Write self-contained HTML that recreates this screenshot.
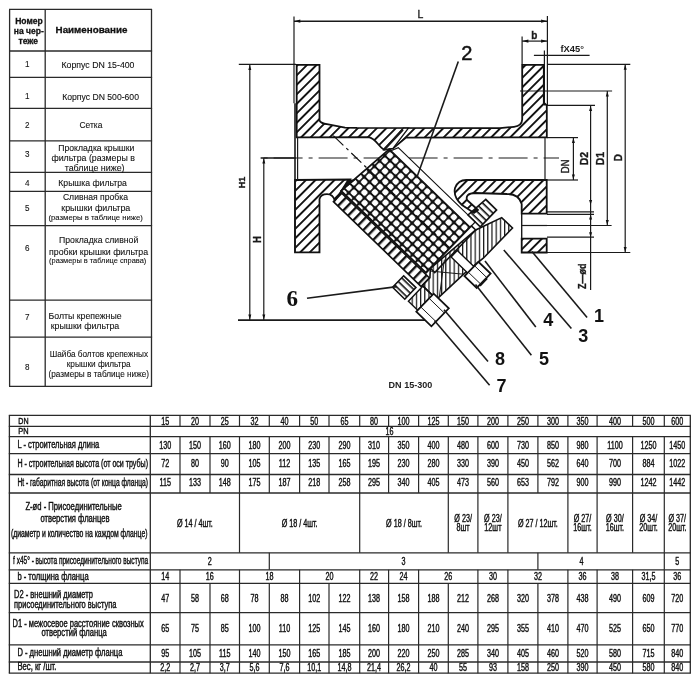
<!DOCTYPE html><html><head><meta charset="utf-8"><style>html,body{margin:0;padding:0;background:#fff;width:700px;height:683px;overflow:hidden}svg{display:block;will-change:transform}text{font-family:"Liberation Sans",sans-serif}</style></head><body>
<svg width="700" height="683" viewBox="0 0 700 683">
<rect width="700" height="683" fill="#fff"/>
<line x1="9.0" y1="9.4" x2="152.1" y2="9.4" stroke="#2a2a2a" stroke-width="1.3" />
<line x1="9.0" y1="51.0" x2="152.1" y2="51.0" stroke="#2a2a2a" stroke-width="1.3" />
<line x1="9.0" y1="77.3" x2="152.1" y2="77.3" stroke="#2a2a2a" stroke-width="1.3" />
<line x1="9.0" y1="108.4" x2="152.1" y2="108.4" stroke="#2a2a2a" stroke-width="1.3" />
<line x1="9.0" y1="140.9" x2="152.1" y2="140.9" stroke="#2a2a2a" stroke-width="1.3" />
<line x1="9.0" y1="172.4" x2="152.1" y2="172.4" stroke="#2a2a2a" stroke-width="1.3" />
<line x1="9.0" y1="191.3" x2="152.1" y2="191.3" stroke="#2a2a2a" stroke-width="1.3" />
<line x1="9.0" y1="225.7" x2="152.1" y2="225.7" stroke="#2a2a2a" stroke-width="1.3" />
<line x1="9.0" y1="300.1" x2="152.1" y2="300.1" stroke="#2a2a2a" stroke-width="1.3" />
<line x1="9.0" y1="337.1" x2="152.1" y2="337.1" stroke="#2a2a2a" stroke-width="1.3" />
<line x1="9.0" y1="386.3" x2="152.1" y2="386.3" stroke="#2a2a2a" stroke-width="1.3" />
<line x1="9.6" y1="9.4" x2="9.6" y2="386.3" stroke="#2a2a2a" stroke-width="1.3" />
<line x1="45.2" y1="9.4" x2="45.2" y2="386.3" stroke="#2a2a2a" stroke-width="1.3" />
<line x1="151.5" y1="9.4" x2="151.5" y2="386.3" stroke="#2a2a2a" stroke-width="1.3" />
<text x="15.2" y="24.3" font-size="9" font-weight="bold" textLength="27.6" lengthAdjust="spacingAndGlyphs" fill="#111" stroke="#111" stroke-width="0.3">Номер</text>
<text x="13.8" y="34.2" font-size="9" font-weight="bold" textLength="30.1" lengthAdjust="spacingAndGlyphs" fill="#111" stroke="#111" stroke-width="0.3">на чер-</text>
<text x="18.5" y="44.2" font-size="9" font-weight="bold" textLength="19.5" lengthAdjust="spacingAndGlyphs" fill="#111" stroke="#111" stroke-width="0.3">теже</text>
<text x="55.6" y="33.3" font-size="9.5" font-weight="bold" textLength="71.8" lengthAdjust="spacingAndGlyphs" fill="#111" stroke="#111" stroke-width="0.3">Наименование</text>
<text transform="translate(27.2,67.0) scale(0.9,1)" text-anchor="middle" font-size="9" font-weight="normal" fill="#111" stroke="#111" stroke-width="0.1">1</text>
<text x="61.5" y="67.8" font-size="9.5" font-weight="normal" textLength="73.0" lengthAdjust="spacingAndGlyphs" fill="#111" stroke="#111" stroke-width="0.1">Корпус DN 15-400</text>
<text transform="translate(27.2,98.8) scale(0.9,1)" text-anchor="middle" font-size="9" font-weight="normal" fill="#111" stroke="#111" stroke-width="0.1">1</text>
<text x="62.2" y="99.7" font-size="9.5" font-weight="normal" textLength="76.8" lengthAdjust="spacingAndGlyphs" fill="#111" stroke="#111" stroke-width="0.1">Корпус DN 500-600</text>
<text transform="translate(27.2,128.1) scale(0.9,1)" text-anchor="middle" font-size="9" font-weight="normal" fill="#111" stroke="#111" stroke-width="0.1">2</text>
<text x="79.5" y="128.3" font-size="9.5" font-weight="normal" textLength="22.9" lengthAdjust="spacingAndGlyphs" fill="#111" stroke="#111" stroke-width="0.1">Сетка</text>
<text transform="translate(27.2,156.6) scale(0.9,1)" text-anchor="middle" font-size="9" font-weight="normal" fill="#111" stroke="#111" stroke-width="0.1">3</text>
<text x="58.3" y="151.1" font-size="9.5" font-weight="normal" textLength="76.1" lengthAdjust="spacingAndGlyphs" fill="#111" stroke="#111" stroke-width="0.1">Прокладка крышки</text>
<text x="51.4" y="160.9" font-size="9.5" font-weight="normal" textLength="83.5" lengthAdjust="spacingAndGlyphs" fill="#111" stroke="#111" stroke-width="0.1">фильтра (размеры в</text>
<text x="64.7" y="170.5" font-size="9.5" font-weight="normal" textLength="59.9" lengthAdjust="spacingAndGlyphs" fill="#111" stroke="#111" stroke-width="0.1">таблице ниже)</text>
<text transform="translate(27.2,185.7) scale(0.9,1)" text-anchor="middle" font-size="9" font-weight="normal" fill="#111" stroke="#111" stroke-width="0.1">4</text>
<text x="58.3" y="185.9" font-size="9.5" font-weight="normal" textLength="68.6" lengthAdjust="spacingAndGlyphs" fill="#111" stroke="#111" stroke-width="0.1">Крышка фильтра</text>
<text transform="translate(27.2,210.6) scale(0.9,1)" text-anchor="middle" font-size="9" font-weight="normal" fill="#111" stroke="#111" stroke-width="0.1">5</text>
<text x="62.9" y="200.3" font-size="9.5" font-weight="normal" textLength="65.1" lengthAdjust="spacingAndGlyphs" fill="#111" stroke="#111" stroke-width="0.1">Сливная пробка</text>
<text x="61.3" y="210.8" font-size="9.5" font-weight="normal" textLength="69.0" lengthAdjust="spacingAndGlyphs" fill="#111" stroke="#111" stroke-width="0.1">крышки фильтра</text>
<text x="48.5" y="220.4" font-size="8" font-weight="normal" textLength="94.4" lengthAdjust="spacingAndGlyphs" fill="#111" stroke="#111" stroke-width="0.1">(размеры в таблице ниже)</text>
<text transform="translate(27.2,251.1) scale(0.9,1)" text-anchor="middle" font-size="9" font-weight="normal" fill="#111" stroke="#111" stroke-width="0.1">6</text>
<text x="59.0" y="243.3" font-size="9.5" font-weight="normal" textLength="79.3" lengthAdjust="spacingAndGlyphs" fill="#111" stroke="#111" stroke-width="0.1">Прокладка сливной</text>
<text x="49.1" y="255.1" font-size="9.5" font-weight="normal" textLength="99.0" lengthAdjust="spacingAndGlyphs" fill="#111" stroke="#111" stroke-width="0.1">пробки крышки фильтра</text>
<text x="49.1" y="263.3" font-size="8" font-weight="normal" textLength="97.2" lengthAdjust="spacingAndGlyphs" fill="#111" stroke="#111" stroke-width="0.1">(размеры в таблице справа)</text>
<text transform="translate(27.2,320.2) scale(0.9,1)" text-anchor="middle" font-size="9" font-weight="normal" fill="#111" stroke="#111" stroke-width="0.1">7</text>
<text x="48.5" y="318.8" font-size="9.5" font-weight="normal" textLength="73.1" lengthAdjust="spacingAndGlyphs" fill="#111" stroke="#111" stroke-width="0.1">Болты крепежные</text>
<text x="50.7" y="329.1" font-size="9.5" font-weight="normal" textLength="68.6" lengthAdjust="spacingAndGlyphs" fill="#111" stroke="#111" stroke-width="0.1">крышки фильтра</text>
<text transform="translate(27.2,370.1) scale(0.9,1)" text-anchor="middle" font-size="9" font-weight="normal" fill="#111" stroke="#111" stroke-width="0.1">8</text>
<text x="49.8" y="357.0" font-size="9.5" font-weight="normal" textLength="98.3" lengthAdjust="spacingAndGlyphs" fill="#111" stroke="#111" stroke-width="0.1">Шайба болтов крепежных</text>
<text x="66.7" y="366.8" font-size="9.5" font-weight="normal" textLength="64.0" lengthAdjust="spacingAndGlyphs" fill="#111" stroke="#111" stroke-width="0.1">крышки фильтра</text>
<text x="48.5" y="376.5" font-size="9" font-weight="normal" textLength="100.5" lengthAdjust="spacingAndGlyphs" fill="#111" stroke="#111" stroke-width="0.1">(размеры в таблице ниже)</text>
<line x1="8.8" y1="415.4" x2="690.9" y2="415.4" stroke="#2a2a2a" stroke-width="1.3" />
<line x1="8.8" y1="426.4" x2="690.9" y2="426.4" stroke="#2a2a2a" stroke-width="1.3" />
<line x1="8.8" y1="436.7" x2="690.9" y2="436.7" stroke="#2a2a2a" stroke-width="1.3" />
<line x1="8.8" y1="453.6" x2="690.9" y2="453.6" stroke="#2a2a2a" stroke-width="1.3" />
<line x1="8.8" y1="474.5" x2="690.9" y2="474.5" stroke="#2a2a2a" stroke-width="1.3" />
<line x1="8.8" y1="493.0" x2="690.9" y2="493.0" stroke="#2a2a2a" stroke-width="1.3" />
<line x1="8.8" y1="552.8" x2="690.9" y2="552.8" stroke="#2a2a2a" stroke-width="1.3" />
<line x1="8.8" y1="569.8" x2="690.9" y2="569.8" stroke="#2a2a2a" stroke-width="1.3" />
<line x1="8.8" y1="583.3" x2="690.9" y2="583.3" stroke="#2a2a2a" stroke-width="1.3" />
<line x1="8.8" y1="612.6" x2="690.9" y2="612.6" stroke="#2a2a2a" stroke-width="1.3" />
<line x1="8.8" y1="644.9" x2="690.9" y2="644.9" stroke="#2a2a2a" stroke-width="1.3" />
<line x1="8.8" y1="662.0" x2="690.9" y2="662.0" stroke="#2a2a2a" stroke-width="1.3" />
<line x1="8.8" y1="673.2" x2="690.9" y2="673.2" stroke="#2a2a2a" stroke-width="1.3" />
<line x1="9.4" y1="415.4" x2="9.4" y2="673.2" stroke="#2a2a2a" stroke-width="1.3" />
<line x1="150.3" y1="415.4" x2="150.3" y2="673.2" stroke="#2a2a2a" stroke-width="1.3" />
<line x1="690.3" y1="415.4" x2="690.3" y2="673.2" stroke="#2a2a2a" stroke-width="1.3" />
<line x1="180.0" y1="415.4" x2="180.0" y2="426.4" stroke="#2a2a2a" stroke-width="1.2" />
<line x1="210.0" y1="415.4" x2="210.0" y2="426.4" stroke="#2a2a2a" stroke-width="1.2" />
<line x1="239.5" y1="415.4" x2="239.5" y2="426.4" stroke="#2a2a2a" stroke-width="1.2" />
<line x1="269.3" y1="415.4" x2="269.3" y2="426.4" stroke="#2a2a2a" stroke-width="1.2" />
<line x1="299.6" y1="415.4" x2="299.6" y2="426.4" stroke="#2a2a2a" stroke-width="1.2" />
<line x1="329.0" y1="415.4" x2="329.0" y2="426.4" stroke="#2a2a2a" stroke-width="1.2" />
<line x1="359.7" y1="415.4" x2="359.7" y2="426.4" stroke="#2a2a2a" stroke-width="1.2" />
<line x1="388.6" y1="415.4" x2="388.6" y2="426.4" stroke="#2a2a2a" stroke-width="1.2" />
<line x1="418.6" y1="415.4" x2="418.6" y2="426.4" stroke="#2a2a2a" stroke-width="1.2" />
<line x1="448.3" y1="415.4" x2="448.3" y2="426.4" stroke="#2a2a2a" stroke-width="1.2" />
<line x1="477.9" y1="415.4" x2="477.9" y2="426.4" stroke="#2a2a2a" stroke-width="1.2" />
<line x1="507.9" y1="415.4" x2="507.9" y2="426.4" stroke="#2a2a2a" stroke-width="1.2" />
<line x1="537.9" y1="415.4" x2="537.9" y2="426.4" stroke="#2a2a2a" stroke-width="1.2" />
<line x1="567.9" y1="415.4" x2="567.9" y2="426.4" stroke="#2a2a2a" stroke-width="1.2" />
<line x1="597.1" y1="415.4" x2="597.1" y2="426.4" stroke="#2a2a2a" stroke-width="1.2" />
<line x1="632.6" y1="415.4" x2="632.6" y2="426.4" stroke="#2a2a2a" stroke-width="1.2" />
<line x1="664.3" y1="415.4" x2="664.3" y2="426.4" stroke="#2a2a2a" stroke-width="1.2" />
<line x1="180.0" y1="436.7" x2="180.0" y2="453.6" stroke="#2a2a2a" stroke-width="1.2" />
<line x1="210.0" y1="436.7" x2="210.0" y2="453.6" stroke="#2a2a2a" stroke-width="1.2" />
<line x1="239.5" y1="436.7" x2="239.5" y2="453.6" stroke="#2a2a2a" stroke-width="1.2" />
<line x1="269.3" y1="436.7" x2="269.3" y2="453.6" stroke="#2a2a2a" stroke-width="1.2" />
<line x1="299.6" y1="436.7" x2="299.6" y2="453.6" stroke="#2a2a2a" stroke-width="1.2" />
<line x1="329.0" y1="436.7" x2="329.0" y2="453.6" stroke="#2a2a2a" stroke-width="1.2" />
<line x1="359.7" y1="436.7" x2="359.7" y2="453.6" stroke="#2a2a2a" stroke-width="1.2" />
<line x1="388.6" y1="436.7" x2="388.6" y2="453.6" stroke="#2a2a2a" stroke-width="1.2" />
<line x1="418.6" y1="436.7" x2="418.6" y2="453.6" stroke="#2a2a2a" stroke-width="1.2" />
<line x1="448.3" y1="436.7" x2="448.3" y2="453.6" stroke="#2a2a2a" stroke-width="1.2" />
<line x1="477.9" y1="436.7" x2="477.9" y2="453.6" stroke="#2a2a2a" stroke-width="1.2" />
<line x1="507.9" y1="436.7" x2="507.9" y2="453.6" stroke="#2a2a2a" stroke-width="1.2" />
<line x1="537.9" y1="436.7" x2="537.9" y2="453.6" stroke="#2a2a2a" stroke-width="1.2" />
<line x1="567.9" y1="436.7" x2="567.9" y2="453.6" stroke="#2a2a2a" stroke-width="1.2" />
<line x1="597.1" y1="436.7" x2="597.1" y2="453.6" stroke="#2a2a2a" stroke-width="1.2" />
<line x1="632.6" y1="436.7" x2="632.6" y2="453.6" stroke="#2a2a2a" stroke-width="1.2" />
<line x1="664.3" y1="436.7" x2="664.3" y2="453.6" stroke="#2a2a2a" stroke-width="1.2" />
<line x1="180.0" y1="453.6" x2="180.0" y2="474.5" stroke="#2a2a2a" stroke-width="1.2" />
<line x1="210.0" y1="453.6" x2="210.0" y2="474.5" stroke="#2a2a2a" stroke-width="1.2" />
<line x1="239.5" y1="453.6" x2="239.5" y2="474.5" stroke="#2a2a2a" stroke-width="1.2" />
<line x1="269.3" y1="453.6" x2="269.3" y2="474.5" stroke="#2a2a2a" stroke-width="1.2" />
<line x1="299.6" y1="453.6" x2="299.6" y2="474.5" stroke="#2a2a2a" stroke-width="1.2" />
<line x1="329.0" y1="453.6" x2="329.0" y2="474.5" stroke="#2a2a2a" stroke-width="1.2" />
<line x1="359.7" y1="453.6" x2="359.7" y2="474.5" stroke="#2a2a2a" stroke-width="1.2" />
<line x1="388.6" y1="453.6" x2="388.6" y2="474.5" stroke="#2a2a2a" stroke-width="1.2" />
<line x1="418.6" y1="453.6" x2="418.6" y2="474.5" stroke="#2a2a2a" stroke-width="1.2" />
<line x1="448.3" y1="453.6" x2="448.3" y2="474.5" stroke="#2a2a2a" stroke-width="1.2" />
<line x1="477.9" y1="453.6" x2="477.9" y2="474.5" stroke="#2a2a2a" stroke-width="1.2" />
<line x1="507.9" y1="453.6" x2="507.9" y2="474.5" stroke="#2a2a2a" stroke-width="1.2" />
<line x1="537.9" y1="453.6" x2="537.9" y2="474.5" stroke="#2a2a2a" stroke-width="1.2" />
<line x1="567.9" y1="453.6" x2="567.9" y2="474.5" stroke="#2a2a2a" stroke-width="1.2" />
<line x1="597.1" y1="453.6" x2="597.1" y2="474.5" stroke="#2a2a2a" stroke-width="1.2" />
<line x1="632.6" y1="453.6" x2="632.6" y2="474.5" stroke="#2a2a2a" stroke-width="1.2" />
<line x1="664.3" y1="453.6" x2="664.3" y2="474.5" stroke="#2a2a2a" stroke-width="1.2" />
<line x1="180.0" y1="474.5" x2="180.0" y2="493.0" stroke="#2a2a2a" stroke-width="1.2" />
<line x1="210.0" y1="474.5" x2="210.0" y2="493.0" stroke="#2a2a2a" stroke-width="1.2" />
<line x1="239.5" y1="474.5" x2="239.5" y2="493.0" stroke="#2a2a2a" stroke-width="1.2" />
<line x1="269.3" y1="474.5" x2="269.3" y2="493.0" stroke="#2a2a2a" stroke-width="1.2" />
<line x1="299.6" y1="474.5" x2="299.6" y2="493.0" stroke="#2a2a2a" stroke-width="1.2" />
<line x1="329.0" y1="474.5" x2="329.0" y2="493.0" stroke="#2a2a2a" stroke-width="1.2" />
<line x1="359.7" y1="474.5" x2="359.7" y2="493.0" stroke="#2a2a2a" stroke-width="1.2" />
<line x1="388.6" y1="474.5" x2="388.6" y2="493.0" stroke="#2a2a2a" stroke-width="1.2" />
<line x1="418.6" y1="474.5" x2="418.6" y2="493.0" stroke="#2a2a2a" stroke-width="1.2" />
<line x1="448.3" y1="474.5" x2="448.3" y2="493.0" stroke="#2a2a2a" stroke-width="1.2" />
<line x1="477.9" y1="474.5" x2="477.9" y2="493.0" stroke="#2a2a2a" stroke-width="1.2" />
<line x1="507.9" y1="474.5" x2="507.9" y2="493.0" stroke="#2a2a2a" stroke-width="1.2" />
<line x1="537.9" y1="474.5" x2="537.9" y2="493.0" stroke="#2a2a2a" stroke-width="1.2" />
<line x1="567.9" y1="474.5" x2="567.9" y2="493.0" stroke="#2a2a2a" stroke-width="1.2" />
<line x1="597.1" y1="474.5" x2="597.1" y2="493.0" stroke="#2a2a2a" stroke-width="1.2" />
<line x1="632.6" y1="474.5" x2="632.6" y2="493.0" stroke="#2a2a2a" stroke-width="1.2" />
<line x1="664.3" y1="474.5" x2="664.3" y2="493.0" stroke="#2a2a2a" stroke-width="1.2" />
<line x1="239.5" y1="493.0" x2="239.5" y2="552.8" stroke="#2a2a2a" stroke-width="1.2" />
<line x1="359.7" y1="493.0" x2="359.7" y2="552.8" stroke="#2a2a2a" stroke-width="1.2" />
<line x1="448.3" y1="493.0" x2="448.3" y2="552.8" stroke="#2a2a2a" stroke-width="1.2" />
<line x1="477.9" y1="493.0" x2="477.9" y2="552.8" stroke="#2a2a2a" stroke-width="1.2" />
<line x1="507.9" y1="493.0" x2="507.9" y2="552.8" stroke="#2a2a2a" stroke-width="1.2" />
<line x1="567.9" y1="493.0" x2="567.9" y2="552.8" stroke="#2a2a2a" stroke-width="1.2" />
<line x1="597.1" y1="493.0" x2="597.1" y2="552.8" stroke="#2a2a2a" stroke-width="1.2" />
<line x1="632.6" y1="493.0" x2="632.6" y2="552.8" stroke="#2a2a2a" stroke-width="1.2" />
<line x1="664.3" y1="493.0" x2="664.3" y2="552.8" stroke="#2a2a2a" stroke-width="1.2" />
<line x1="269.3" y1="552.8" x2="269.3" y2="569.8" stroke="#2a2a2a" stroke-width="1.2" />
<line x1="537.9" y1="552.8" x2="537.9" y2="569.8" stroke="#2a2a2a" stroke-width="1.2" />
<line x1="664.3" y1="552.8" x2="664.3" y2="569.8" stroke="#2a2a2a" stroke-width="1.2" />
<line x1="180.0" y1="569.8" x2="180.0" y2="583.3" stroke="#2a2a2a" stroke-width="1.2" />
<line x1="239.5" y1="569.8" x2="239.5" y2="583.3" stroke="#2a2a2a" stroke-width="1.2" />
<line x1="299.6" y1="569.8" x2="299.6" y2="583.3" stroke="#2a2a2a" stroke-width="1.2" />
<line x1="359.7" y1="569.8" x2="359.7" y2="583.3" stroke="#2a2a2a" stroke-width="1.2" />
<line x1="388.6" y1="569.8" x2="388.6" y2="583.3" stroke="#2a2a2a" stroke-width="1.2" />
<line x1="418.6" y1="569.8" x2="418.6" y2="583.3" stroke="#2a2a2a" stroke-width="1.2" />
<line x1="477.9" y1="569.8" x2="477.9" y2="583.3" stroke="#2a2a2a" stroke-width="1.2" />
<line x1="507.9" y1="569.8" x2="507.9" y2="583.3" stroke="#2a2a2a" stroke-width="1.2" />
<line x1="567.9" y1="569.8" x2="567.9" y2="583.3" stroke="#2a2a2a" stroke-width="1.2" />
<line x1="597.1" y1="569.8" x2="597.1" y2="583.3" stroke="#2a2a2a" stroke-width="1.2" />
<line x1="632.6" y1="569.8" x2="632.6" y2="583.3" stroke="#2a2a2a" stroke-width="1.2" />
<line x1="664.3" y1="569.8" x2="664.3" y2="583.3" stroke="#2a2a2a" stroke-width="1.2" />
<line x1="180.0" y1="583.3" x2="180.0" y2="612.6" stroke="#2a2a2a" stroke-width="1.2" />
<line x1="210.0" y1="583.3" x2="210.0" y2="612.6" stroke="#2a2a2a" stroke-width="1.2" />
<line x1="239.5" y1="583.3" x2="239.5" y2="612.6" stroke="#2a2a2a" stroke-width="1.2" />
<line x1="269.3" y1="583.3" x2="269.3" y2="612.6" stroke="#2a2a2a" stroke-width="1.2" />
<line x1="299.6" y1="583.3" x2="299.6" y2="612.6" stroke="#2a2a2a" stroke-width="1.2" />
<line x1="329.0" y1="583.3" x2="329.0" y2="612.6" stroke="#2a2a2a" stroke-width="1.2" />
<line x1="359.7" y1="583.3" x2="359.7" y2="612.6" stroke="#2a2a2a" stroke-width="1.2" />
<line x1="388.6" y1="583.3" x2="388.6" y2="612.6" stroke="#2a2a2a" stroke-width="1.2" />
<line x1="418.6" y1="583.3" x2="418.6" y2="612.6" stroke="#2a2a2a" stroke-width="1.2" />
<line x1="448.3" y1="583.3" x2="448.3" y2="612.6" stroke="#2a2a2a" stroke-width="1.2" />
<line x1="477.9" y1="583.3" x2="477.9" y2="612.6" stroke="#2a2a2a" stroke-width="1.2" />
<line x1="507.9" y1="583.3" x2="507.9" y2="612.6" stroke="#2a2a2a" stroke-width="1.2" />
<line x1="537.9" y1="583.3" x2="537.9" y2="612.6" stroke="#2a2a2a" stroke-width="1.2" />
<line x1="567.9" y1="583.3" x2="567.9" y2="612.6" stroke="#2a2a2a" stroke-width="1.2" />
<line x1="597.1" y1="583.3" x2="597.1" y2="612.6" stroke="#2a2a2a" stroke-width="1.2" />
<line x1="632.6" y1="583.3" x2="632.6" y2="612.6" stroke="#2a2a2a" stroke-width="1.2" />
<line x1="664.3" y1="583.3" x2="664.3" y2="612.6" stroke="#2a2a2a" stroke-width="1.2" />
<line x1="180.0" y1="612.6" x2="180.0" y2="644.9" stroke="#2a2a2a" stroke-width="1.2" />
<line x1="210.0" y1="612.6" x2="210.0" y2="644.9" stroke="#2a2a2a" stroke-width="1.2" />
<line x1="239.5" y1="612.6" x2="239.5" y2="644.9" stroke="#2a2a2a" stroke-width="1.2" />
<line x1="269.3" y1="612.6" x2="269.3" y2="644.9" stroke="#2a2a2a" stroke-width="1.2" />
<line x1="299.6" y1="612.6" x2="299.6" y2="644.9" stroke="#2a2a2a" stroke-width="1.2" />
<line x1="329.0" y1="612.6" x2="329.0" y2="644.9" stroke="#2a2a2a" stroke-width="1.2" />
<line x1="359.7" y1="612.6" x2="359.7" y2="644.9" stroke="#2a2a2a" stroke-width="1.2" />
<line x1="388.6" y1="612.6" x2="388.6" y2="644.9" stroke="#2a2a2a" stroke-width="1.2" />
<line x1="418.6" y1="612.6" x2="418.6" y2="644.9" stroke="#2a2a2a" stroke-width="1.2" />
<line x1="448.3" y1="612.6" x2="448.3" y2="644.9" stroke="#2a2a2a" stroke-width="1.2" />
<line x1="477.9" y1="612.6" x2="477.9" y2="644.9" stroke="#2a2a2a" stroke-width="1.2" />
<line x1="507.9" y1="612.6" x2="507.9" y2="644.9" stroke="#2a2a2a" stroke-width="1.2" />
<line x1="537.9" y1="612.6" x2="537.9" y2="644.9" stroke="#2a2a2a" stroke-width="1.2" />
<line x1="567.9" y1="612.6" x2="567.9" y2="644.9" stroke="#2a2a2a" stroke-width="1.2" />
<line x1="597.1" y1="612.6" x2="597.1" y2="644.9" stroke="#2a2a2a" stroke-width="1.2" />
<line x1="632.6" y1="612.6" x2="632.6" y2="644.9" stroke="#2a2a2a" stroke-width="1.2" />
<line x1="664.3" y1="612.6" x2="664.3" y2="644.9" stroke="#2a2a2a" stroke-width="1.2" />
<line x1="180.0" y1="644.9" x2="180.0" y2="662.0" stroke="#2a2a2a" stroke-width="1.2" />
<line x1="210.0" y1="644.9" x2="210.0" y2="662.0" stroke="#2a2a2a" stroke-width="1.2" />
<line x1="239.5" y1="644.9" x2="239.5" y2="662.0" stroke="#2a2a2a" stroke-width="1.2" />
<line x1="269.3" y1="644.9" x2="269.3" y2="662.0" stroke="#2a2a2a" stroke-width="1.2" />
<line x1="299.6" y1="644.9" x2="299.6" y2="662.0" stroke="#2a2a2a" stroke-width="1.2" />
<line x1="329.0" y1="644.9" x2="329.0" y2="662.0" stroke="#2a2a2a" stroke-width="1.2" />
<line x1="359.7" y1="644.9" x2="359.7" y2="662.0" stroke="#2a2a2a" stroke-width="1.2" />
<line x1="388.6" y1="644.9" x2="388.6" y2="662.0" stroke="#2a2a2a" stroke-width="1.2" />
<line x1="418.6" y1="644.9" x2="418.6" y2="662.0" stroke="#2a2a2a" stroke-width="1.2" />
<line x1="448.3" y1="644.9" x2="448.3" y2="662.0" stroke="#2a2a2a" stroke-width="1.2" />
<line x1="477.9" y1="644.9" x2="477.9" y2="662.0" stroke="#2a2a2a" stroke-width="1.2" />
<line x1="507.9" y1="644.9" x2="507.9" y2="662.0" stroke="#2a2a2a" stroke-width="1.2" />
<line x1="537.9" y1="644.9" x2="537.9" y2="662.0" stroke="#2a2a2a" stroke-width="1.2" />
<line x1="567.9" y1="644.9" x2="567.9" y2="662.0" stroke="#2a2a2a" stroke-width="1.2" />
<line x1="597.1" y1="644.9" x2="597.1" y2="662.0" stroke="#2a2a2a" stroke-width="1.2" />
<line x1="632.6" y1="644.9" x2="632.6" y2="662.0" stroke="#2a2a2a" stroke-width="1.2" />
<line x1="664.3" y1="644.9" x2="664.3" y2="662.0" stroke="#2a2a2a" stroke-width="1.2" />
<line x1="180.0" y1="662.0" x2="180.0" y2="673.2" stroke="#2a2a2a" stroke-width="1.2" />
<line x1="210.0" y1="662.0" x2="210.0" y2="673.2" stroke="#2a2a2a" stroke-width="1.2" />
<line x1="239.5" y1="662.0" x2="239.5" y2="673.2" stroke="#2a2a2a" stroke-width="1.2" />
<line x1="269.3" y1="662.0" x2="269.3" y2="673.2" stroke="#2a2a2a" stroke-width="1.2" />
<line x1="299.6" y1="662.0" x2="299.6" y2="673.2" stroke="#2a2a2a" stroke-width="1.2" />
<line x1="329.0" y1="662.0" x2="329.0" y2="673.2" stroke="#2a2a2a" stroke-width="1.2" />
<line x1="359.7" y1="662.0" x2="359.7" y2="673.2" stroke="#2a2a2a" stroke-width="1.2" />
<line x1="388.6" y1="662.0" x2="388.6" y2="673.2" stroke="#2a2a2a" stroke-width="1.2" />
<line x1="418.6" y1="662.0" x2="418.6" y2="673.2" stroke="#2a2a2a" stroke-width="1.2" />
<line x1="448.3" y1="662.0" x2="448.3" y2="673.2" stroke="#2a2a2a" stroke-width="1.2" />
<line x1="477.9" y1="662.0" x2="477.9" y2="673.2" stroke="#2a2a2a" stroke-width="1.2" />
<line x1="507.9" y1="662.0" x2="507.9" y2="673.2" stroke="#2a2a2a" stroke-width="1.2" />
<line x1="537.9" y1="662.0" x2="537.9" y2="673.2" stroke="#2a2a2a" stroke-width="1.2" />
<line x1="567.9" y1="662.0" x2="567.9" y2="673.2" stroke="#2a2a2a" stroke-width="1.2" />
<line x1="597.1" y1="662.0" x2="597.1" y2="673.2" stroke="#2a2a2a" stroke-width="1.2" />
<line x1="632.6" y1="662.0" x2="632.6" y2="673.2" stroke="#2a2a2a" stroke-width="1.2" />
<line x1="664.3" y1="662.0" x2="664.3" y2="673.2" stroke="#2a2a2a" stroke-width="1.2" />
<text transform="translate(165.2,424.5) scale(0.72,1)" text-anchor="middle" font-size="10" font-weight="normal" fill="#111" stroke="#111" stroke-width="0.4">15</text>
<text transform="translate(165.2,448.8) scale(0.72,1)" text-anchor="middle" font-size="10" font-weight="normal" fill="#111" stroke="#111" stroke-width="0.4">130</text>
<text transform="translate(165.2,466.9) scale(0.72,1)" text-anchor="middle" font-size="10" font-weight="normal" fill="#111" stroke="#111" stroke-width="0.4">72</text>
<text transform="translate(165.2,486.4) scale(0.72,1)" text-anchor="middle" font-size="10" font-weight="normal" fill="#111" stroke="#111" stroke-width="0.4">115</text>
<text transform="translate(165.2,601.6) scale(0.72,1)" text-anchor="middle" font-size="10" font-weight="normal" fill="#111" stroke="#111" stroke-width="0.4">47</text>
<text transform="translate(165.2,632.4) scale(0.72,1)" text-anchor="middle" font-size="10" font-weight="normal" fill="#111" stroke="#111" stroke-width="0.4">65</text>
<text transform="translate(165.2,656.8) scale(0.72,1)" text-anchor="middle" font-size="10" font-weight="normal" fill="#111" stroke="#111" stroke-width="0.4">95</text>
<text transform="translate(165.2,671.0) scale(0.72,1)" text-anchor="middle" font-size="10" font-weight="normal" fill="#111" stroke="#111" stroke-width="0.4">2,2</text>
<text transform="translate(195.0,424.5) scale(0.72,1)" text-anchor="middle" font-size="10" font-weight="normal" fill="#111" stroke="#111" stroke-width="0.4">20</text>
<text transform="translate(195.0,448.8) scale(0.72,1)" text-anchor="middle" font-size="10" font-weight="normal" fill="#111" stroke="#111" stroke-width="0.4">150</text>
<text transform="translate(195.0,466.9) scale(0.72,1)" text-anchor="middle" font-size="10" font-weight="normal" fill="#111" stroke="#111" stroke-width="0.4">80</text>
<text transform="translate(195.0,486.4) scale(0.72,1)" text-anchor="middle" font-size="10" font-weight="normal" fill="#111" stroke="#111" stroke-width="0.4">133</text>
<text transform="translate(195.0,601.6) scale(0.72,1)" text-anchor="middle" font-size="10" font-weight="normal" fill="#111" stroke="#111" stroke-width="0.4">58</text>
<text transform="translate(195.0,632.4) scale(0.72,1)" text-anchor="middle" font-size="10" font-weight="normal" fill="#111" stroke="#111" stroke-width="0.4">75</text>
<text transform="translate(195.0,656.8) scale(0.72,1)" text-anchor="middle" font-size="10" font-weight="normal" fill="#111" stroke="#111" stroke-width="0.4">105</text>
<text transform="translate(195.0,671.0) scale(0.72,1)" text-anchor="middle" font-size="10" font-weight="normal" fill="#111" stroke="#111" stroke-width="0.4">2,7</text>
<text transform="translate(224.8,424.5) scale(0.72,1)" text-anchor="middle" font-size="10" font-weight="normal" fill="#111" stroke="#111" stroke-width="0.4">25</text>
<text transform="translate(224.8,448.8) scale(0.72,1)" text-anchor="middle" font-size="10" font-weight="normal" fill="#111" stroke="#111" stroke-width="0.4">160</text>
<text transform="translate(224.8,466.9) scale(0.72,1)" text-anchor="middle" font-size="10" font-weight="normal" fill="#111" stroke="#111" stroke-width="0.4">90</text>
<text transform="translate(224.8,486.4) scale(0.72,1)" text-anchor="middle" font-size="10" font-weight="normal" fill="#111" stroke="#111" stroke-width="0.4">148</text>
<text transform="translate(224.8,601.6) scale(0.72,1)" text-anchor="middle" font-size="10" font-weight="normal" fill="#111" stroke="#111" stroke-width="0.4">68</text>
<text transform="translate(224.8,632.4) scale(0.72,1)" text-anchor="middle" font-size="10" font-weight="normal" fill="#111" stroke="#111" stroke-width="0.4">85</text>
<text transform="translate(224.8,656.8) scale(0.72,1)" text-anchor="middle" font-size="10" font-weight="normal" fill="#111" stroke="#111" stroke-width="0.4">115</text>
<text transform="translate(224.8,671.0) scale(0.72,1)" text-anchor="middle" font-size="10" font-weight="normal" fill="#111" stroke="#111" stroke-width="0.4">3,7</text>
<text transform="translate(254.4,424.5) scale(0.72,1)" text-anchor="middle" font-size="10" font-weight="normal" fill="#111" stroke="#111" stroke-width="0.4">32</text>
<text transform="translate(254.4,448.8) scale(0.72,1)" text-anchor="middle" font-size="10" font-weight="normal" fill="#111" stroke="#111" stroke-width="0.4">180</text>
<text transform="translate(254.4,466.9) scale(0.72,1)" text-anchor="middle" font-size="10" font-weight="normal" fill="#111" stroke="#111" stroke-width="0.4">105</text>
<text transform="translate(254.4,486.4) scale(0.72,1)" text-anchor="middle" font-size="10" font-weight="normal" fill="#111" stroke="#111" stroke-width="0.4">175</text>
<text transform="translate(254.4,601.6) scale(0.72,1)" text-anchor="middle" font-size="10" font-weight="normal" fill="#111" stroke="#111" stroke-width="0.4">78</text>
<text transform="translate(254.4,632.4) scale(0.72,1)" text-anchor="middle" font-size="10" font-weight="normal" fill="#111" stroke="#111" stroke-width="0.4">100</text>
<text transform="translate(254.4,656.8) scale(0.72,1)" text-anchor="middle" font-size="10" font-weight="normal" fill="#111" stroke="#111" stroke-width="0.4">140</text>
<text transform="translate(254.4,671.0) scale(0.72,1)" text-anchor="middle" font-size="10" font-weight="normal" fill="#111" stroke="#111" stroke-width="0.4">5,6</text>
<text transform="translate(284.5,424.5) scale(0.72,1)" text-anchor="middle" font-size="10" font-weight="normal" fill="#111" stroke="#111" stroke-width="0.4">40</text>
<text transform="translate(284.5,448.8) scale(0.72,1)" text-anchor="middle" font-size="10" font-weight="normal" fill="#111" stroke="#111" stroke-width="0.4">200</text>
<text transform="translate(284.5,466.9) scale(0.72,1)" text-anchor="middle" font-size="10" font-weight="normal" fill="#111" stroke="#111" stroke-width="0.4">112</text>
<text transform="translate(284.5,486.4) scale(0.72,1)" text-anchor="middle" font-size="10" font-weight="normal" fill="#111" stroke="#111" stroke-width="0.4">187</text>
<text transform="translate(284.5,601.6) scale(0.72,1)" text-anchor="middle" font-size="10" font-weight="normal" fill="#111" stroke="#111" stroke-width="0.4">88</text>
<text transform="translate(284.5,632.4) scale(0.72,1)" text-anchor="middle" font-size="10" font-weight="normal" fill="#111" stroke="#111" stroke-width="0.4">110</text>
<text transform="translate(284.5,656.8) scale(0.72,1)" text-anchor="middle" font-size="10" font-weight="normal" fill="#111" stroke="#111" stroke-width="0.4">150</text>
<text transform="translate(284.5,671.0) scale(0.72,1)" text-anchor="middle" font-size="10" font-weight="normal" fill="#111" stroke="#111" stroke-width="0.4">7,6</text>
<text transform="translate(314.3,424.5) scale(0.72,1)" text-anchor="middle" font-size="10" font-weight="normal" fill="#111" stroke="#111" stroke-width="0.4">50</text>
<text transform="translate(314.3,448.8) scale(0.72,1)" text-anchor="middle" font-size="10" font-weight="normal" fill="#111" stroke="#111" stroke-width="0.4">230</text>
<text transform="translate(314.3,466.9) scale(0.72,1)" text-anchor="middle" font-size="10" font-weight="normal" fill="#111" stroke="#111" stroke-width="0.4">135</text>
<text transform="translate(314.3,486.4) scale(0.72,1)" text-anchor="middle" font-size="10" font-weight="normal" fill="#111" stroke="#111" stroke-width="0.4">218</text>
<text transform="translate(314.3,601.6) scale(0.72,1)" text-anchor="middle" font-size="10" font-weight="normal" fill="#111" stroke="#111" stroke-width="0.4">102</text>
<text transform="translate(314.3,632.4) scale(0.72,1)" text-anchor="middle" font-size="10" font-weight="normal" fill="#111" stroke="#111" stroke-width="0.4">125</text>
<text transform="translate(314.3,656.8) scale(0.72,1)" text-anchor="middle" font-size="10" font-weight="normal" fill="#111" stroke="#111" stroke-width="0.4">165</text>
<text transform="translate(314.3,671.0) scale(0.72,1)" text-anchor="middle" font-size="10" font-weight="normal" fill="#111" stroke="#111" stroke-width="0.4">10,1</text>
<text transform="translate(344.4,424.5) scale(0.72,1)" text-anchor="middle" font-size="10" font-weight="normal" fill="#111" stroke="#111" stroke-width="0.4">65</text>
<text transform="translate(344.4,448.8) scale(0.72,1)" text-anchor="middle" font-size="10" font-weight="normal" fill="#111" stroke="#111" stroke-width="0.4">290</text>
<text transform="translate(344.4,466.9) scale(0.72,1)" text-anchor="middle" font-size="10" font-weight="normal" fill="#111" stroke="#111" stroke-width="0.4">165</text>
<text transform="translate(344.4,486.4) scale(0.72,1)" text-anchor="middle" font-size="10" font-weight="normal" fill="#111" stroke="#111" stroke-width="0.4">258</text>
<text transform="translate(344.4,601.6) scale(0.72,1)" text-anchor="middle" font-size="10" font-weight="normal" fill="#111" stroke="#111" stroke-width="0.4">122</text>
<text transform="translate(344.4,632.4) scale(0.72,1)" text-anchor="middle" font-size="10" font-weight="normal" fill="#111" stroke="#111" stroke-width="0.4">145</text>
<text transform="translate(344.4,656.8) scale(0.72,1)" text-anchor="middle" font-size="10" font-weight="normal" fill="#111" stroke="#111" stroke-width="0.4">185</text>
<text transform="translate(344.4,671.0) scale(0.72,1)" text-anchor="middle" font-size="10" font-weight="normal" fill="#111" stroke="#111" stroke-width="0.4">14,8</text>
<text transform="translate(374.1,424.5) scale(0.72,1)" text-anchor="middle" font-size="10" font-weight="normal" fill="#111" stroke="#111" stroke-width="0.4">80</text>
<text transform="translate(374.1,448.8) scale(0.72,1)" text-anchor="middle" font-size="10" font-weight="normal" fill="#111" stroke="#111" stroke-width="0.4">310</text>
<text transform="translate(374.1,466.9) scale(0.72,1)" text-anchor="middle" font-size="10" font-weight="normal" fill="#111" stroke="#111" stroke-width="0.4">195</text>
<text transform="translate(374.1,486.4) scale(0.72,1)" text-anchor="middle" font-size="10" font-weight="normal" fill="#111" stroke="#111" stroke-width="0.4">295</text>
<text transform="translate(374.1,601.6) scale(0.72,1)" text-anchor="middle" font-size="10" font-weight="normal" fill="#111" stroke="#111" stroke-width="0.4">138</text>
<text transform="translate(374.1,632.4) scale(0.72,1)" text-anchor="middle" font-size="10" font-weight="normal" fill="#111" stroke="#111" stroke-width="0.4">160</text>
<text transform="translate(374.1,656.8) scale(0.72,1)" text-anchor="middle" font-size="10" font-weight="normal" fill="#111" stroke="#111" stroke-width="0.4">200</text>
<text transform="translate(374.1,671.0) scale(0.72,1)" text-anchor="middle" font-size="10" font-weight="normal" fill="#111" stroke="#111" stroke-width="0.4">21,4</text>
<text transform="translate(403.6,424.5) scale(0.72,1)" text-anchor="middle" font-size="10" font-weight="normal" fill="#111" stroke="#111" stroke-width="0.4">100</text>
<text transform="translate(403.6,448.8) scale(0.72,1)" text-anchor="middle" font-size="10" font-weight="normal" fill="#111" stroke="#111" stroke-width="0.4">350</text>
<text transform="translate(403.6,466.9) scale(0.72,1)" text-anchor="middle" font-size="10" font-weight="normal" fill="#111" stroke="#111" stroke-width="0.4">230</text>
<text transform="translate(403.6,486.4) scale(0.72,1)" text-anchor="middle" font-size="10" font-weight="normal" fill="#111" stroke="#111" stroke-width="0.4">340</text>
<text transform="translate(403.6,601.6) scale(0.72,1)" text-anchor="middle" font-size="10" font-weight="normal" fill="#111" stroke="#111" stroke-width="0.4">158</text>
<text transform="translate(403.6,632.4) scale(0.72,1)" text-anchor="middle" font-size="10" font-weight="normal" fill="#111" stroke="#111" stroke-width="0.4">180</text>
<text transform="translate(403.6,656.8) scale(0.72,1)" text-anchor="middle" font-size="10" font-weight="normal" fill="#111" stroke="#111" stroke-width="0.4">220</text>
<text transform="translate(403.6,671.0) scale(0.72,1)" text-anchor="middle" font-size="10" font-weight="normal" fill="#111" stroke="#111" stroke-width="0.4">26,2</text>
<text transform="translate(433.5,424.5) scale(0.72,1)" text-anchor="middle" font-size="10" font-weight="normal" fill="#111" stroke="#111" stroke-width="0.4">125</text>
<text transform="translate(433.5,448.8) scale(0.72,1)" text-anchor="middle" font-size="10" font-weight="normal" fill="#111" stroke="#111" stroke-width="0.4">400</text>
<text transform="translate(433.5,466.9) scale(0.72,1)" text-anchor="middle" font-size="10" font-weight="normal" fill="#111" stroke="#111" stroke-width="0.4">280</text>
<text transform="translate(433.5,486.4) scale(0.72,1)" text-anchor="middle" font-size="10" font-weight="normal" fill="#111" stroke="#111" stroke-width="0.4">405</text>
<text transform="translate(433.5,601.6) scale(0.72,1)" text-anchor="middle" font-size="10" font-weight="normal" fill="#111" stroke="#111" stroke-width="0.4">188</text>
<text transform="translate(433.5,632.4) scale(0.72,1)" text-anchor="middle" font-size="10" font-weight="normal" fill="#111" stroke="#111" stroke-width="0.4">210</text>
<text transform="translate(433.5,656.8) scale(0.72,1)" text-anchor="middle" font-size="10" font-weight="normal" fill="#111" stroke="#111" stroke-width="0.4">250</text>
<text transform="translate(433.5,671.0) scale(0.72,1)" text-anchor="middle" font-size="10" font-weight="normal" fill="#111" stroke="#111" stroke-width="0.4">40</text>
<text transform="translate(463.1,424.5) scale(0.72,1)" text-anchor="middle" font-size="10" font-weight="normal" fill="#111" stroke="#111" stroke-width="0.4">150</text>
<text transform="translate(463.1,448.8) scale(0.72,1)" text-anchor="middle" font-size="10" font-weight="normal" fill="#111" stroke="#111" stroke-width="0.4">480</text>
<text transform="translate(463.1,466.9) scale(0.72,1)" text-anchor="middle" font-size="10" font-weight="normal" fill="#111" stroke="#111" stroke-width="0.4">330</text>
<text transform="translate(463.1,486.4) scale(0.72,1)" text-anchor="middle" font-size="10" font-weight="normal" fill="#111" stroke="#111" stroke-width="0.4">473</text>
<text transform="translate(463.1,601.6) scale(0.72,1)" text-anchor="middle" font-size="10" font-weight="normal" fill="#111" stroke="#111" stroke-width="0.4">212</text>
<text transform="translate(463.1,632.4) scale(0.72,1)" text-anchor="middle" font-size="10" font-weight="normal" fill="#111" stroke="#111" stroke-width="0.4">240</text>
<text transform="translate(463.1,656.8) scale(0.72,1)" text-anchor="middle" font-size="10" font-weight="normal" fill="#111" stroke="#111" stroke-width="0.4">285</text>
<text transform="translate(463.1,671.0) scale(0.72,1)" text-anchor="middle" font-size="10" font-weight="normal" fill="#111" stroke="#111" stroke-width="0.4">55</text>
<text transform="translate(492.9,424.5) scale(0.72,1)" text-anchor="middle" font-size="10" font-weight="normal" fill="#111" stroke="#111" stroke-width="0.4">200</text>
<text transform="translate(492.9,448.8) scale(0.72,1)" text-anchor="middle" font-size="10" font-weight="normal" fill="#111" stroke="#111" stroke-width="0.4">600</text>
<text transform="translate(492.9,466.9) scale(0.72,1)" text-anchor="middle" font-size="10" font-weight="normal" fill="#111" stroke="#111" stroke-width="0.4">390</text>
<text transform="translate(492.9,486.4) scale(0.72,1)" text-anchor="middle" font-size="10" font-weight="normal" fill="#111" stroke="#111" stroke-width="0.4">560</text>
<text transform="translate(492.9,601.6) scale(0.72,1)" text-anchor="middle" font-size="10" font-weight="normal" fill="#111" stroke="#111" stroke-width="0.4">268</text>
<text transform="translate(492.9,632.4) scale(0.72,1)" text-anchor="middle" font-size="10" font-weight="normal" fill="#111" stroke="#111" stroke-width="0.4">295</text>
<text transform="translate(492.9,656.8) scale(0.72,1)" text-anchor="middle" font-size="10" font-weight="normal" fill="#111" stroke="#111" stroke-width="0.4">340</text>
<text transform="translate(492.9,671.0) scale(0.72,1)" text-anchor="middle" font-size="10" font-weight="normal" fill="#111" stroke="#111" stroke-width="0.4">93</text>
<text transform="translate(522.9,424.5) scale(0.72,1)" text-anchor="middle" font-size="10" font-weight="normal" fill="#111" stroke="#111" stroke-width="0.4">250</text>
<text transform="translate(522.9,448.8) scale(0.72,1)" text-anchor="middle" font-size="10" font-weight="normal" fill="#111" stroke="#111" stroke-width="0.4">730</text>
<text transform="translate(522.9,466.9) scale(0.72,1)" text-anchor="middle" font-size="10" font-weight="normal" fill="#111" stroke="#111" stroke-width="0.4">450</text>
<text transform="translate(522.9,486.4) scale(0.72,1)" text-anchor="middle" font-size="10" font-weight="normal" fill="#111" stroke="#111" stroke-width="0.4">653</text>
<text transform="translate(522.9,601.6) scale(0.72,1)" text-anchor="middle" font-size="10" font-weight="normal" fill="#111" stroke="#111" stroke-width="0.4">320</text>
<text transform="translate(522.9,632.4) scale(0.72,1)" text-anchor="middle" font-size="10" font-weight="normal" fill="#111" stroke="#111" stroke-width="0.4">355</text>
<text transform="translate(522.9,656.8) scale(0.72,1)" text-anchor="middle" font-size="10" font-weight="normal" fill="#111" stroke="#111" stroke-width="0.4">405</text>
<text transform="translate(522.9,671.0) scale(0.72,1)" text-anchor="middle" font-size="10" font-weight="normal" fill="#111" stroke="#111" stroke-width="0.4">158</text>
<text transform="translate(552.9,424.5) scale(0.72,1)" text-anchor="middle" font-size="10" font-weight="normal" fill="#111" stroke="#111" stroke-width="0.4">300</text>
<text transform="translate(552.9,448.8) scale(0.72,1)" text-anchor="middle" font-size="10" font-weight="normal" fill="#111" stroke="#111" stroke-width="0.4">850</text>
<text transform="translate(552.9,466.9) scale(0.72,1)" text-anchor="middle" font-size="10" font-weight="normal" fill="#111" stroke="#111" stroke-width="0.4">562</text>
<text transform="translate(552.9,486.4) scale(0.72,1)" text-anchor="middle" font-size="10" font-weight="normal" fill="#111" stroke="#111" stroke-width="0.4">792</text>
<text transform="translate(552.9,601.6) scale(0.72,1)" text-anchor="middle" font-size="10" font-weight="normal" fill="#111" stroke="#111" stroke-width="0.4">378</text>
<text transform="translate(552.9,632.4) scale(0.72,1)" text-anchor="middle" font-size="10" font-weight="normal" fill="#111" stroke="#111" stroke-width="0.4">410</text>
<text transform="translate(552.9,656.8) scale(0.72,1)" text-anchor="middle" font-size="10" font-weight="normal" fill="#111" stroke="#111" stroke-width="0.4">460</text>
<text transform="translate(552.9,671.0) scale(0.72,1)" text-anchor="middle" font-size="10" font-weight="normal" fill="#111" stroke="#111" stroke-width="0.4">250</text>
<text transform="translate(582.5,424.5) scale(0.72,1)" text-anchor="middle" font-size="10" font-weight="normal" fill="#111" stroke="#111" stroke-width="0.4">350</text>
<text transform="translate(582.5,448.8) scale(0.72,1)" text-anchor="middle" font-size="10" font-weight="normal" fill="#111" stroke="#111" stroke-width="0.4">980</text>
<text transform="translate(582.5,466.9) scale(0.72,1)" text-anchor="middle" font-size="10" font-weight="normal" fill="#111" stroke="#111" stroke-width="0.4">640</text>
<text transform="translate(582.5,486.4) scale(0.72,1)" text-anchor="middle" font-size="10" font-weight="normal" fill="#111" stroke="#111" stroke-width="0.4">900</text>
<text transform="translate(582.5,601.6) scale(0.72,1)" text-anchor="middle" font-size="10" font-weight="normal" fill="#111" stroke="#111" stroke-width="0.4">438</text>
<text transform="translate(582.5,632.4) scale(0.72,1)" text-anchor="middle" font-size="10" font-weight="normal" fill="#111" stroke="#111" stroke-width="0.4">470</text>
<text transform="translate(582.5,656.8) scale(0.72,1)" text-anchor="middle" font-size="10" font-weight="normal" fill="#111" stroke="#111" stroke-width="0.4">520</text>
<text transform="translate(582.5,671.0) scale(0.72,1)" text-anchor="middle" font-size="10" font-weight="normal" fill="#111" stroke="#111" stroke-width="0.4">390</text>
<text transform="translate(614.9,424.5) scale(0.72,1)" text-anchor="middle" font-size="10" font-weight="normal" fill="#111" stroke="#111" stroke-width="0.4">400</text>
<text transform="translate(614.9,448.8) scale(0.72,1)" text-anchor="middle" font-size="10" font-weight="normal" fill="#111" stroke="#111" stroke-width="0.4">1100</text>
<text transform="translate(614.9,466.9) scale(0.72,1)" text-anchor="middle" font-size="10" font-weight="normal" fill="#111" stroke="#111" stroke-width="0.4">700</text>
<text transform="translate(614.9,486.4) scale(0.72,1)" text-anchor="middle" font-size="10" font-weight="normal" fill="#111" stroke="#111" stroke-width="0.4">990</text>
<text transform="translate(614.9,601.6) scale(0.72,1)" text-anchor="middle" font-size="10" font-weight="normal" fill="#111" stroke="#111" stroke-width="0.4">490</text>
<text transform="translate(614.9,632.4) scale(0.72,1)" text-anchor="middle" font-size="10" font-weight="normal" fill="#111" stroke="#111" stroke-width="0.4">525</text>
<text transform="translate(614.9,656.8) scale(0.72,1)" text-anchor="middle" font-size="10" font-weight="normal" fill="#111" stroke="#111" stroke-width="0.4">580</text>
<text transform="translate(614.9,671.0) scale(0.72,1)" text-anchor="middle" font-size="10" font-weight="normal" fill="#111" stroke="#111" stroke-width="0.4">450</text>
<text transform="translate(648.5,424.5) scale(0.72,1)" text-anchor="middle" font-size="10" font-weight="normal" fill="#111" stroke="#111" stroke-width="0.4">500</text>
<text transform="translate(648.5,448.8) scale(0.72,1)" text-anchor="middle" font-size="10" font-weight="normal" fill="#111" stroke="#111" stroke-width="0.4">1250</text>
<text transform="translate(648.5,466.9) scale(0.72,1)" text-anchor="middle" font-size="10" font-weight="normal" fill="#111" stroke="#111" stroke-width="0.4">884</text>
<text transform="translate(648.5,486.4) scale(0.72,1)" text-anchor="middle" font-size="10" font-weight="normal" fill="#111" stroke="#111" stroke-width="0.4">1242</text>
<text transform="translate(648.5,601.6) scale(0.72,1)" text-anchor="middle" font-size="10" font-weight="normal" fill="#111" stroke="#111" stroke-width="0.4">609</text>
<text transform="translate(648.5,632.4) scale(0.72,1)" text-anchor="middle" font-size="10" font-weight="normal" fill="#111" stroke="#111" stroke-width="0.4">650</text>
<text transform="translate(648.5,656.8) scale(0.72,1)" text-anchor="middle" font-size="10" font-weight="normal" fill="#111" stroke="#111" stroke-width="0.4">715</text>
<text transform="translate(648.5,671.0) scale(0.72,1)" text-anchor="middle" font-size="10" font-weight="normal" fill="#111" stroke="#111" stroke-width="0.4">580</text>
<text transform="translate(677.3,424.5) scale(0.72,1)" text-anchor="middle" font-size="10" font-weight="normal" fill="#111" stroke="#111" stroke-width="0.4">600</text>
<text transform="translate(677.3,448.8) scale(0.72,1)" text-anchor="middle" font-size="10" font-weight="normal" fill="#111" stroke="#111" stroke-width="0.4">1450</text>
<text transform="translate(677.3,466.9) scale(0.72,1)" text-anchor="middle" font-size="10" font-weight="normal" fill="#111" stroke="#111" stroke-width="0.4">1022</text>
<text transform="translate(677.3,486.4) scale(0.72,1)" text-anchor="middle" font-size="10" font-weight="normal" fill="#111" stroke="#111" stroke-width="0.4">1442</text>
<text transform="translate(677.3,601.6) scale(0.72,1)" text-anchor="middle" font-size="10" font-weight="normal" fill="#111" stroke="#111" stroke-width="0.4">720</text>
<text transform="translate(677.3,632.4) scale(0.72,1)" text-anchor="middle" font-size="10" font-weight="normal" fill="#111" stroke="#111" stroke-width="0.4">770</text>
<text transform="translate(677.3,656.8) scale(0.72,1)" text-anchor="middle" font-size="10" font-weight="normal" fill="#111" stroke="#111" stroke-width="0.4">840</text>
<text transform="translate(677.3,671.0) scale(0.72,1)" text-anchor="middle" font-size="10" font-weight="normal" fill="#111" stroke="#111" stroke-width="0.4">840</text>
<text transform="translate(389.5,435.1) scale(0.72,1)" text-anchor="middle" font-size="10" font-weight="normal" fill="#111" stroke="#111" stroke-width="0.4">16</text>
<text transform="translate(194.9,526.5) scale(0.72,1)" text-anchor="middle" font-size="10" font-weight="normal" fill="#111" stroke="#111" stroke-width="0.4">Ø 14 / 4шт.</text>
<text transform="translate(299.6,526.5) scale(0.72,1)" text-anchor="middle" font-size="10" font-weight="normal" fill="#111" stroke="#111" stroke-width="0.4">Ø 18 / 4шт.</text>
<text transform="translate(404.0,526.5) scale(0.72,1)" text-anchor="middle" font-size="10" font-weight="normal" fill="#111" stroke="#111" stroke-width="0.4">Ø 18 / 8шт.</text>
<text transform="translate(463.1,521.9) scale(0.72,1)" text-anchor="middle" font-size="10" font-weight="normal" fill="#111" stroke="#111" stroke-width="0.4">Ø 23/</text>
<text transform="translate(463.1,531.1) scale(0.72,1)" text-anchor="middle" font-size="10" font-weight="normal" fill="#111" stroke="#111" stroke-width="0.4">8шт</text>
<text transform="translate(492.9,521.9) scale(0.72,1)" text-anchor="middle" font-size="10" font-weight="normal" fill="#111" stroke="#111" stroke-width="0.4">Ø 23/</text>
<text transform="translate(492.9,531.1) scale(0.72,1)" text-anchor="middle" font-size="10" font-weight="normal" fill="#111" stroke="#111" stroke-width="0.4">12шт</text>
<text transform="translate(582.5,521.9) scale(0.72,1)" text-anchor="middle" font-size="10" font-weight="normal" fill="#111" stroke="#111" stroke-width="0.4">Ø 27/</text>
<text transform="translate(582.5,531.1) scale(0.72,1)" text-anchor="middle" font-size="10" font-weight="normal" fill="#111" stroke="#111" stroke-width="0.4">16шт.</text>
<text transform="translate(614.9,521.9) scale(0.72,1)" text-anchor="middle" font-size="10" font-weight="normal" fill="#111" stroke="#111" stroke-width="0.4">Ø 30/</text>
<text transform="translate(614.9,531.1) scale(0.72,1)" text-anchor="middle" font-size="10" font-weight="normal" fill="#111" stroke="#111" stroke-width="0.4">16шт.</text>
<text transform="translate(648.5,521.9) scale(0.72,1)" text-anchor="middle" font-size="10" font-weight="normal" fill="#111" stroke="#111" stroke-width="0.4">Ø 34/</text>
<text transform="translate(648.5,531.1) scale(0.72,1)" text-anchor="middle" font-size="10" font-weight="normal" fill="#111" stroke="#111" stroke-width="0.4">20шт.</text>
<text transform="translate(677.3,521.9) scale(0.72,1)" text-anchor="middle" font-size="10" font-weight="normal" fill="#111" stroke="#111" stroke-width="0.4">Ø 37/</text>
<text transform="translate(677.3,531.1) scale(0.72,1)" text-anchor="middle" font-size="10" font-weight="normal" fill="#111" stroke="#111" stroke-width="0.4">20шт.</text>
<text transform="translate(537.9,526.5) scale(0.72,1)" text-anchor="middle" font-size="10" font-weight="normal" fill="#111" stroke="#111" stroke-width="0.4">Ø 27 / 12шт.</text>
<text transform="translate(209.8,564.9) scale(0.72,1)" text-anchor="middle" font-size="10" font-weight="normal" fill="#111" stroke="#111" stroke-width="0.4">2</text>
<text transform="translate(403.6,564.9) scale(0.72,1)" text-anchor="middle" font-size="10" font-weight="normal" fill="#111" stroke="#111" stroke-width="0.4">3</text>
<text transform="translate(581.5,564.9) scale(0.72,1)" text-anchor="middle" font-size="10" font-weight="normal" fill="#111" stroke="#111" stroke-width="0.4">4</text>
<text transform="translate(677.3,564.9) scale(0.72,1)" text-anchor="middle" font-size="10" font-weight="normal" fill="#111" stroke="#111" stroke-width="0.4">5</text>
<text transform="translate(165.2,580.1) scale(0.72,1)" text-anchor="middle" font-size="10" font-weight="normal" fill="#111" stroke="#111" stroke-width="0.4">14</text>
<text transform="translate(209.8,580.1) scale(0.72,1)" text-anchor="middle" font-size="10" font-weight="normal" fill="#111" stroke="#111" stroke-width="0.4">16</text>
<text transform="translate(269.6,580.1) scale(0.72,1)" text-anchor="middle" font-size="10" font-weight="normal" fill="#111" stroke="#111" stroke-width="0.4">18</text>
<text transform="translate(329.6,580.1) scale(0.72,1)" text-anchor="middle" font-size="10" font-weight="normal" fill="#111" stroke="#111" stroke-width="0.4">20</text>
<text transform="translate(374.1,580.1) scale(0.72,1)" text-anchor="middle" font-size="10" font-weight="normal" fill="#111" stroke="#111" stroke-width="0.4">22</text>
<text transform="translate(403.6,580.1) scale(0.72,1)" text-anchor="middle" font-size="10" font-weight="normal" fill="#111" stroke="#111" stroke-width="0.4">24</text>
<text transform="translate(448.2,580.1) scale(0.72,1)" text-anchor="middle" font-size="10" font-weight="normal" fill="#111" stroke="#111" stroke-width="0.4">26</text>
<text transform="translate(492.9,580.1) scale(0.72,1)" text-anchor="middle" font-size="10" font-weight="normal" fill="#111" stroke="#111" stroke-width="0.4">30</text>
<text transform="translate(537.9,580.1) scale(0.72,1)" text-anchor="middle" font-size="10" font-weight="normal" fill="#111" stroke="#111" stroke-width="0.4">32</text>
<text transform="translate(582.5,580.1) scale(0.72,1)" text-anchor="middle" font-size="10" font-weight="normal" fill="#111" stroke="#111" stroke-width="0.4">36</text>
<text transform="translate(614.9,580.1) scale(0.72,1)" text-anchor="middle" font-size="10" font-weight="normal" fill="#111" stroke="#111" stroke-width="0.4">38</text>
<text transform="translate(648.5,580.1) scale(0.72,1)" text-anchor="middle" font-size="10" font-weight="normal" fill="#111" stroke="#111" stroke-width="0.4">31,5</text>
<text transform="translate(677.3,580.1) scale(0.72,1)" text-anchor="middle" font-size="10" font-weight="normal" fill="#111" stroke="#111" stroke-width="0.4">36</text>
<text x="18.3" y="423.6" font-size="9" font-weight="normal" textLength="10.3" lengthAdjust="spacingAndGlyphs" fill="#111" stroke="#111" stroke-width="0.4">DN</text>
<text x="18.3" y="434.2" font-size="9" font-weight="normal" textLength="10.3" lengthAdjust="spacingAndGlyphs" fill="#111" stroke="#111" stroke-width="0.4">PN</text>
<text x="17.4" y="447.6" font-size="10" font-weight="normal" textLength="81.9" lengthAdjust="spacingAndGlyphs" fill="#111" stroke="#111" stroke-width="0.4">L - строительная длина</text>
<text x="17.4" y="467.4" font-size="10" font-weight="normal" textLength="130.6" lengthAdjust="spacingAndGlyphs" fill="#111" stroke="#111" stroke-width="0.4">H - строительная высота (от оси трубы)</text>
<text x="17.4" y="486.0" font-size="10" font-weight="normal" textLength="130.6" lengthAdjust="spacingAndGlyphs" fill="#111" stroke="#111" stroke-width="0.4">Ht - габаритная высота (от конца фланца)</text>
<text x="25.4" y="509.7" font-size="10" font-weight="normal" textLength="96.4" lengthAdjust="spacingAndGlyphs" fill="#111" stroke="#111" stroke-width="0.4">Z-ød - Присоединительные</text>
<text x="40.4" y="521.9" font-size="10" font-weight="normal" textLength="69.2" lengthAdjust="spacingAndGlyphs" fill="#111" stroke="#111" stroke-width="0.4">отверстия фланцев</text>
<text x="11.0" y="536.9" font-size="10" font-weight="normal" textLength="136.5" lengthAdjust="spacingAndGlyphs" fill="#111" stroke="#111" stroke-width="0.4">(диаметр и количество на каждом фланце)</text>
<text x="13.1" y="563.7" font-size="10" font-weight="normal" textLength="135.0" lengthAdjust="spacingAndGlyphs" fill="#111" stroke="#111" stroke-width="0.4">f x45° - высота присоединительного выступа</text>
<text x="17.4" y="579.8" font-size="10" font-weight="normal" textLength="71.2" lengthAdjust="spacingAndGlyphs" fill="#111" stroke="#111" stroke-width="0.4">b - толщина фланца</text>
<text x="14.0" y="597.6" font-size="10" font-weight="normal" textLength="78.9" lengthAdjust="spacingAndGlyphs" fill="#111" stroke="#111" stroke-width="0.4">D2 - внешний диаметр</text>
<text x="14.0" y="608.3" font-size="10" font-weight="normal" textLength="102.4" lengthAdjust="spacingAndGlyphs" fill="#111" stroke="#111" stroke-width="0.4">присоединительного выступа</text>
<text x="12.5" y="626.9" font-size="10" font-weight="normal" textLength="131.3" lengthAdjust="spacingAndGlyphs" fill="#111" stroke="#111" stroke-width="0.4">D1 - межосевое расстояние сквозных</text>
<text x="41.4" y="635.5" font-size="10" font-weight="normal" textLength="65.4" lengthAdjust="spacingAndGlyphs" fill="#111" stroke="#111" stroke-width="0.4">отверстий фланца</text>
<text x="17.4" y="655.9" font-size="10" font-weight="normal" textLength="105.0" lengthAdjust="spacingAndGlyphs" fill="#111" stroke="#111" stroke-width="0.4">D - днешний диаметр фланца</text>
<text x="17.4" y="670.4" font-size="10" font-weight="normal" textLength="39.0" lengthAdjust="spacingAndGlyphs" fill="#111" stroke="#111" stroke-width="0.4">Вес, кг /шт.</text>
<defs>
<pattern id="h45" patternUnits="userSpaceOnUse" width="6.72" height="6.72" patternTransform="rotate(45)">
<rect x="0" y="0" width="1.9" height="6.72" fill="#111"/></pattern>
<pattern id="hv" patternUnits="userSpaceOnUse" width="4.2" height="10">
<rect x="0" y="0" width="1.2" height="10" fill="#111"/></pattern>
<pattern id="hband" patternUnits="userSpaceOnUse" width="7" height="7" patternTransform="rotate(44)">
<rect x="0" y="0" width="2.4" height="7" fill="#111"/></pattern>
<pattern id="mesh" patternUnits="userSpaceOnUse" width="7.4" height="7.4" patternTransform="rotate(44)">
<rect x="0" y="0" width="7.4" height="7.4" fill="#111"/><rect x="0.85" y="0.85" width="5.7" height="5.7" rx="1.8" fill="#fff"/></pattern>
<pattern id="hband2" patternUnits="userSpaceOnUse" width="5" height="5" patternTransform="rotate(44)">
<rect x="0" y="0" width="5" height="1.6" fill="#111"/></pattern>
</defs>
<line x1="294.0" y1="16.4" x2="294.0" y2="103.3" stroke="#1a1a1a" stroke-width="1.2" />
<line x1="547.4" y1="16.0" x2="547.4" y2="105.5" stroke="#1a1a1a" stroke-width="1.2" />
<line x1="294.0" y1="21.2" x2="547.4" y2="21.2" stroke="#1a1a1a" stroke-width="1.4" />
<path d="M294.3,21.2 l6.0,-1.6 v3.2 z" fill="#111"/>
<path d="M547.1,21.2 l-6.0,-1.6 v3.2 z" fill="#111"/>
<text transform="translate(420.3,17.7) scale(0.95,1)" text-anchor="middle" font-size="11" font-weight="normal" fill="#1a1a1a" stroke="#1a1a1a" stroke-width="0.35">L</text>
<line x1="522.1" y1="36.4" x2="522.1" y2="64.3" stroke="#1a1a1a" stroke-width="1.2" />
<line x1="522.1" y1="41.1" x2="547.4" y2="41.1" stroke="#1a1a1a" stroke-width="1.2" />
<path d="M522.4,41.1 l6.0,-1.6 v3.2 z" fill="#111"/>
<path d="M547.1,41.1 l-6.0,-1.6 v3.2 z" fill="#111"/>
<text transform="translate(534.2,39.2) scale(0.95,1)" text-anchor="middle" font-size="10.5" font-weight="bold" fill="#1a1a1a" stroke="#1a1a1a" stroke-width="0.35">b</text>
<line x1="533.9" y1="55.3" x2="589.6" y2="55.3" stroke="#1a1a1a" stroke-width="1.2" />
<line x1="544.4" y1="50.4" x2="544.4" y2="105.4" stroke="#1a1a1a" stroke-width="1.2" />
<text x="560.5" y="52.3" font-size="9.5" font-weight="bold" textLength="23.5" lengthAdjust="spacingAndGlyphs" fill="#1a1a1a">fX45°</text>
<line x1="547.0" y1="64.3" x2="630.3" y2="64.3" stroke="#1a1a1a" stroke-width="1.2" />
<line x1="520.0" y1="91.0" x2="612.1" y2="91.0" stroke="#1a1a1a" stroke-width="1.2" />
<line x1="547.0" y1="105.4" x2="595.0" y2="105.4" stroke="#1a1a1a" stroke-width="1.2" />
<line x1="625.2" y1="64.3" x2="625.2" y2="252.5" stroke="#1a1a1a" stroke-width="1.2" />
<line x1="607.3" y1="91.0" x2="607.3" y2="225.5" stroke="#1a1a1a" stroke-width="1.2" />
<line x1="590.6" y1="105.4" x2="590.6" y2="290.0" stroke="#1a1a1a" stroke-width="1.2" />
<line x1="547.0" y1="252.5" x2="630.3" y2="252.5" stroke="#1a1a1a" stroke-width="1.2" />
<line x1="547.0" y1="225.5" x2="611.6" y2="225.5" stroke="#1a1a1a" stroke-width="1.2" />
<line x1="547.0" y1="211.9" x2="594.0" y2="211.9" stroke="#1a1a1a" stroke-width="1.2" />
<line x1="547.0" y1="214.4" x2="594.0" y2="214.4" stroke="#1a1a1a" stroke-width="1.2" />
<line x1="547.0" y1="237.2" x2="594.0" y2="237.2" stroke="#1a1a1a" stroke-width="1.2" />
<line x1="547.0" y1="137.6" x2="578.0" y2="137.6" stroke="#1a1a1a" stroke-width="1.2" />
<line x1="547.0" y1="180.0" x2="578.0" y2="180.0" stroke="#1a1a1a" stroke-width="1.2" />
<line x1="573.4" y1="137.6" x2="573.4" y2="180.0" stroke="#1a1a1a" stroke-width="1.2" />
<path d="M625.2,64.8 l-1.5,5.0 h3 z" fill="#111"/>
<path d="M625.2,252.0 l-1.5,-5.0 h3 z" fill="#111"/>
<path d="M607.3,91.5 l-1.5,5.0 h3 z" fill="#111"/>
<path d="M607.3,225.0 l-1.5,-5.0 h3 z" fill="#111"/>
<path d="M590.6,105.9 l-1.5,5.0 h3 z" fill="#111"/>
<path d="M590.6,205.0 l-1.5,-5.0 h3 z" fill="#111"/>
<path d="M573.4,138.0 l-1.5,5.0 h3 z" fill="#111"/>
<path d="M573.4,179.6 l-1.5,-5.0 h3 z" fill="#111"/>
<path d="M590.6,214.4 l-1.5,5.0 h3 z" fill="#111"/>
<path d="M590.6,237.2 l-1.5,-5.0 h3 z" fill="#111"/>
<text transform="translate(583.4,158.6) rotate(-90) scale(0.95,1)" text-anchor="middle" font-size="11" font-weight="bold" fill="#1a1a1a" stroke="#1a1a1a" stroke-width="0.35" dominant-baseline="central">D2</text>
<text transform="translate(600.3,158.6) rotate(-90) scale(0.95,1)" text-anchor="middle" font-size="11" font-weight="bold" fill="#1a1a1a" stroke="#1a1a1a" stroke-width="0.35" dominant-baseline="central">D1</text>
<text transform="translate(618.0,157.6) rotate(-90) scale(0.95,1)" text-anchor="middle" font-size="10.5" font-weight="bold" fill="#1a1a1a" stroke="#1a1a1a" stroke-width="0.35" dominant-baseline="central">D</text>
<text transform="translate(565.3,166.3) rotate(-90) scale(0.95,1)" text-anchor="middle" font-size="10" font-weight="normal" fill="#1a1a1a" stroke="#1a1a1a" stroke-width="0.35" dominant-baseline="central">DN</text>
<text transform="translate(582.4,276.2) rotate(-90) scale(0.82,1)" text-anchor="middle" font-size="11" font-weight="bold" fill="#1a1a1a" stroke="#1a1a1a" stroke-width="0.35" dominant-baseline="central">Z—ød</text>
<line x1="238.8" y1="64.4" x2="296.0" y2="64.4" stroke="#1a1a1a" stroke-width="1.2" />
<line x1="249.8" y1="64.4" x2="249.8" y2="320.0" stroke="#1a1a1a" stroke-width="1.2" />
<line x1="260.7" y1="158.0" x2="296.0" y2="158.0" stroke="#1a1a1a" stroke-width="1.2" />
<line x1="263.8" y1="158.0" x2="263.8" y2="320.0" stroke="#1a1a1a" stroke-width="1.2" />
<path d="M249.8,65.0 l-1.5,5.0 h3 z" fill="#111"/>
<path d="M249.8,319.5 l-1.5,-5.0 h3 z" fill="#111"/>
<path d="M263.8,158.5 l-1.5,5.0 h3 z" fill="#111"/>
<path d="M263.8,319.5 l-1.5,-5.0 h3 z" fill="#111"/>
<text transform="translate(241.9,182.4) rotate(-90) scale(0.95,1)" text-anchor="middle" font-size="9.5" font-weight="bold" fill="#1a1a1a" stroke="#1a1a1a" stroke-width="0.35" dominant-baseline="central">H1</text>
<text transform="translate(257.0,239.6) rotate(-90) scale(0.95,1)" text-anchor="middle" font-size="10" font-weight="bold" fill="#1a1a1a" stroke="#1a1a1a" stroke-width="0.35" dominant-baseline="central">H</text>
<line x1="238.0" y1="320.2" x2="432.0" y2="320.2" stroke="#1a1a1a" stroke-width="1.7" />
<line x1="260.7" y1="158.0" x2="296.0" y2="158.0" stroke="#1a1a1a" stroke-width="1.1" />
<line x1="260.7" y1="158.0" x2="559.0" y2="158.0" stroke="#1a1a1a" stroke-width="1.1" stroke-dasharray="29,6,4,6" stroke-dashoffset="32.1"/>
<path d="M296.7,64.9 L319.5,64.9 L319.5,120.5 Q321,123.5 327,124.2 L345,127.6 L357,127.9 L500,128.2 L514,126.8 Q521.8,126 522.2,119.5 L522.2,64.8 L543.8,64.8 L543.8,102.7 L546.8,105.5 L546.8,137.3 L406,137.6 L393,148.4 L384,149.7 Q381,147.8 378,144 Q373,138 368.6,137.1 L296.7,137.3 Z" fill="url(#h45)" stroke="#111" stroke-width="1.8"/>
<polygon points="384,149.7 403.3,128.2 408.4,128.2 393,148.4" fill="#fff" stroke="#111" stroke-width="1.3"/>
<line x1="384.5" y1="149.2" x2="402.8" y2="129.6" stroke="#1a1a1a" stroke-width="2.4" />
<path d="M295,180 L350,179.5 L341,192 L334.8,200.7 Q333,194.2 327,194.2 Q321,194.2 319.5,199 L319.5,252.4 L295,252.4 Z" fill="url(#h45)" stroke="#111" stroke-width="1.8"/>
<path d="M466.3,180 L546.7,180 L546.7,213.7 L521.7,213.7 L521.7,204 Q519,194 507,194 L475,193 Q465,193.5 467,200 L478,210 L474,213 L462,205 Q453,197 455,188 Q458,180 466.3,180 Z" fill="url(#h45)" stroke="#111" stroke-width="1.8"/>
<path d="M521.7,238.6 L546.7,238.6 L546.7,252.5 L521.7,252.5 Z" fill="url(#h45)" stroke="#111" stroke-width="1.8"/>
<line x1="521.7" y1="213.7" x2="521.7" y2="238.6" stroke="#1a1a1a" stroke-width="1.4" />
<line x1="521.7" y1="225.5" x2="547.0" y2="225.5" stroke="#1a1a1a" stroke-width="1.2" />
<line x1="545.0" y1="137.3" x2="545.0" y2="180.0" stroke="#1a1a1a" stroke-width="1.2" />
<line x1="295.0" y1="103.3" x2="295.0" y2="252.4" stroke="#1a1a1a" stroke-width="1.6" />
<line x1="297.6" y1="137.3" x2="297.6" y2="180.0" stroke="#1a1a1a" stroke-width="1.2" />
<polygon points="333.4,201.7 421.2,286.5 429.5,277.9 341.7,193.2" fill="url(#hband)" stroke="#111" stroke-width="1.6" />
<polygon points="341.2,190.8 426.1,272.8 470.2,227.2 389.3,149.1" fill="url(#mesh)" stroke="#111" stroke-width="1.8" />
<polygon points="347.5,179.6 356,179.6 341.5,191 339,193" fill="#111"/>
<line x1="341.8" y1="193.0" x2="425.3" y2="273.6" stroke="#1a1a1a" stroke-width="1.0" />
<polygon points="391.0,150.7 470.2,227.2 475.2,221.9 398.3,147.6" fill="#fff" stroke="#111" stroke-width="1.2" />
<polygon points="468.0,215.0 480.3,226.8 496.6,209.9 485.8,199.4" fill="url(#hband2)" stroke="#111" stroke-width="1.6" />
<polygon points="430.4,268.3 434.7,272.5 475.7,230.0 471.4,225.9" fill="#fff" stroke="#111" stroke-width="1.6" />
<polygon points="422.2,285.4 436.6,299.3 464.5,273.4 483.3,258.2 512.5,228.0 501.7,217.6 475.7,230.0 430.4,268.3 429.9,277.5" fill="url(#hv)" stroke="#111" stroke-width="1.6" />
<line x1="430.5" y1="271.1" x2="462.4" y2="274.1" stroke="#1a1a1a" stroke-width="1.0" />
<line x1="444.4" y1="259.6" x2="439.4" y2="296.4" stroke="#1a1a1a" stroke-width="1.0" />
<polygon points="451.1,257.0 480.6,285.5 486.8,279.0 457.3,250.5" fill="#fff" stroke="#111" stroke-width="1.4" />
<polygon points="464.5,276.2 476.7,288.0 490.6,273.6 478.4,261.8" fill="#fff" stroke="#111" stroke-width="1.8" />
<line x1="468.3" y1="272.2" x2="480.6" y2="284.0" stroke="#1a1a1a" stroke-width="1.0" />
<line x1="474.6" y1="265.8" x2="486.8" y2="277.6" stroke="#1a1a1a" stroke-width="1.0" />
<polygon points="392.6,287.3 404.8,299.2 415.9,287.6 403.7,275.8" fill="url(#hband2)" stroke="#111" stroke-width="1.6" />
<polygon points="408.4,301.2 417.7,310.2 432.3,295.1 423.0,286.1" fill="url(#hv)" stroke="#111" stroke-width="1.4" />
<polygon points="416.3,311.7 431.4,326.3 448.8,308.3 433.7,293.7" fill="#fff" stroke="#111" stroke-width="1.8" />
<line x1="420.8" y1="307.0" x2="436.0" y2="321.6" stroke="#1a1a1a" stroke-width="1.0" />
<line x1="429.2" y1="298.4" x2="444.3" y2="313.0" stroke="#1a1a1a" stroke-width="1.0" />
<line x1="333.3" y1="135.6" x2="367.2" y2="168.3" stroke="#111" stroke-width="1.2" stroke-dasharray="14,4,3,4"/>
<line x1="367.2" y1="168.3" x2="449.9" y2="248.2" stroke="#111" stroke-width="1.3" stroke-dasharray="14,4,3,4"/>
<text x="466.9" y="60.2" text-anchor="middle" font-size="20" fill="#111" stroke="#111" stroke-width="0.5">2</text>
<line x1="458.3" y1="61.5" x2="417.0" y2="177.0" stroke="#1a1a1a" stroke-width="1.6" />
<text x="292.3" y="305.9" text-anchor="middle" font-size="23" font-weight="bold" fill="#111" style="font-family:'Liberation Serif'">6</text>
<line x1="307.0" y1="298.3" x2="397.0" y2="286.6" stroke="#1a1a1a" stroke-width="1.6" />
<text x="599" y="322.0" text-anchor="middle" font-size="18" font-weight="bold" fill="#111">1</text>
<line x1="532.0" y1="251.6" x2="587.1" y2="317.6" stroke="#1a1a1a" stroke-width="1.6" />
<text x="583.3" y="342.1" text-anchor="middle" font-size="18" font-weight="bold" fill="#111">3</text>
<line x1="503.8" y1="250.0" x2="571.4" y2="328.6" stroke="#1a1a1a" stroke-width="1.6" />
<text x="548.3" y="325.5" text-anchor="middle" font-size="18" font-weight="bold" fill="#111">4</text>
<line x1="485.0" y1="261.0" x2="535.8" y2="327.0" stroke="#1a1a1a" stroke-width="1.6" />
<text x="544" y="365.0" text-anchor="middle" font-size="18" font-weight="bold" fill="#111">5</text>
<line x1="475.5" y1="284.6" x2="531.4" y2="355.3" stroke="#1a1a1a" stroke-width="1.6" />
<text x="500" y="365.0" text-anchor="middle" font-size="18" font-weight="bold" fill="#111">8</text>
<line x1="444.0" y1="309.7" x2="488.0" y2="361.6" stroke="#1a1a1a" stroke-width="1.6" />
<text x="501.6" y="392.3" text-anchor="middle" font-size="18" font-weight="bold" fill="#111">7</text>
<line x1="434.6" y1="320.8" x2="489.6" y2="385.2" stroke="#1a1a1a" stroke-width="1.6" />
<text x="388.6" y="388.2" font-size="9.5" font-weight="bold" textLength="43.7" lengthAdjust="spacingAndGlyphs" fill="#222">DN 15-300</text>
</svg></body></html>
